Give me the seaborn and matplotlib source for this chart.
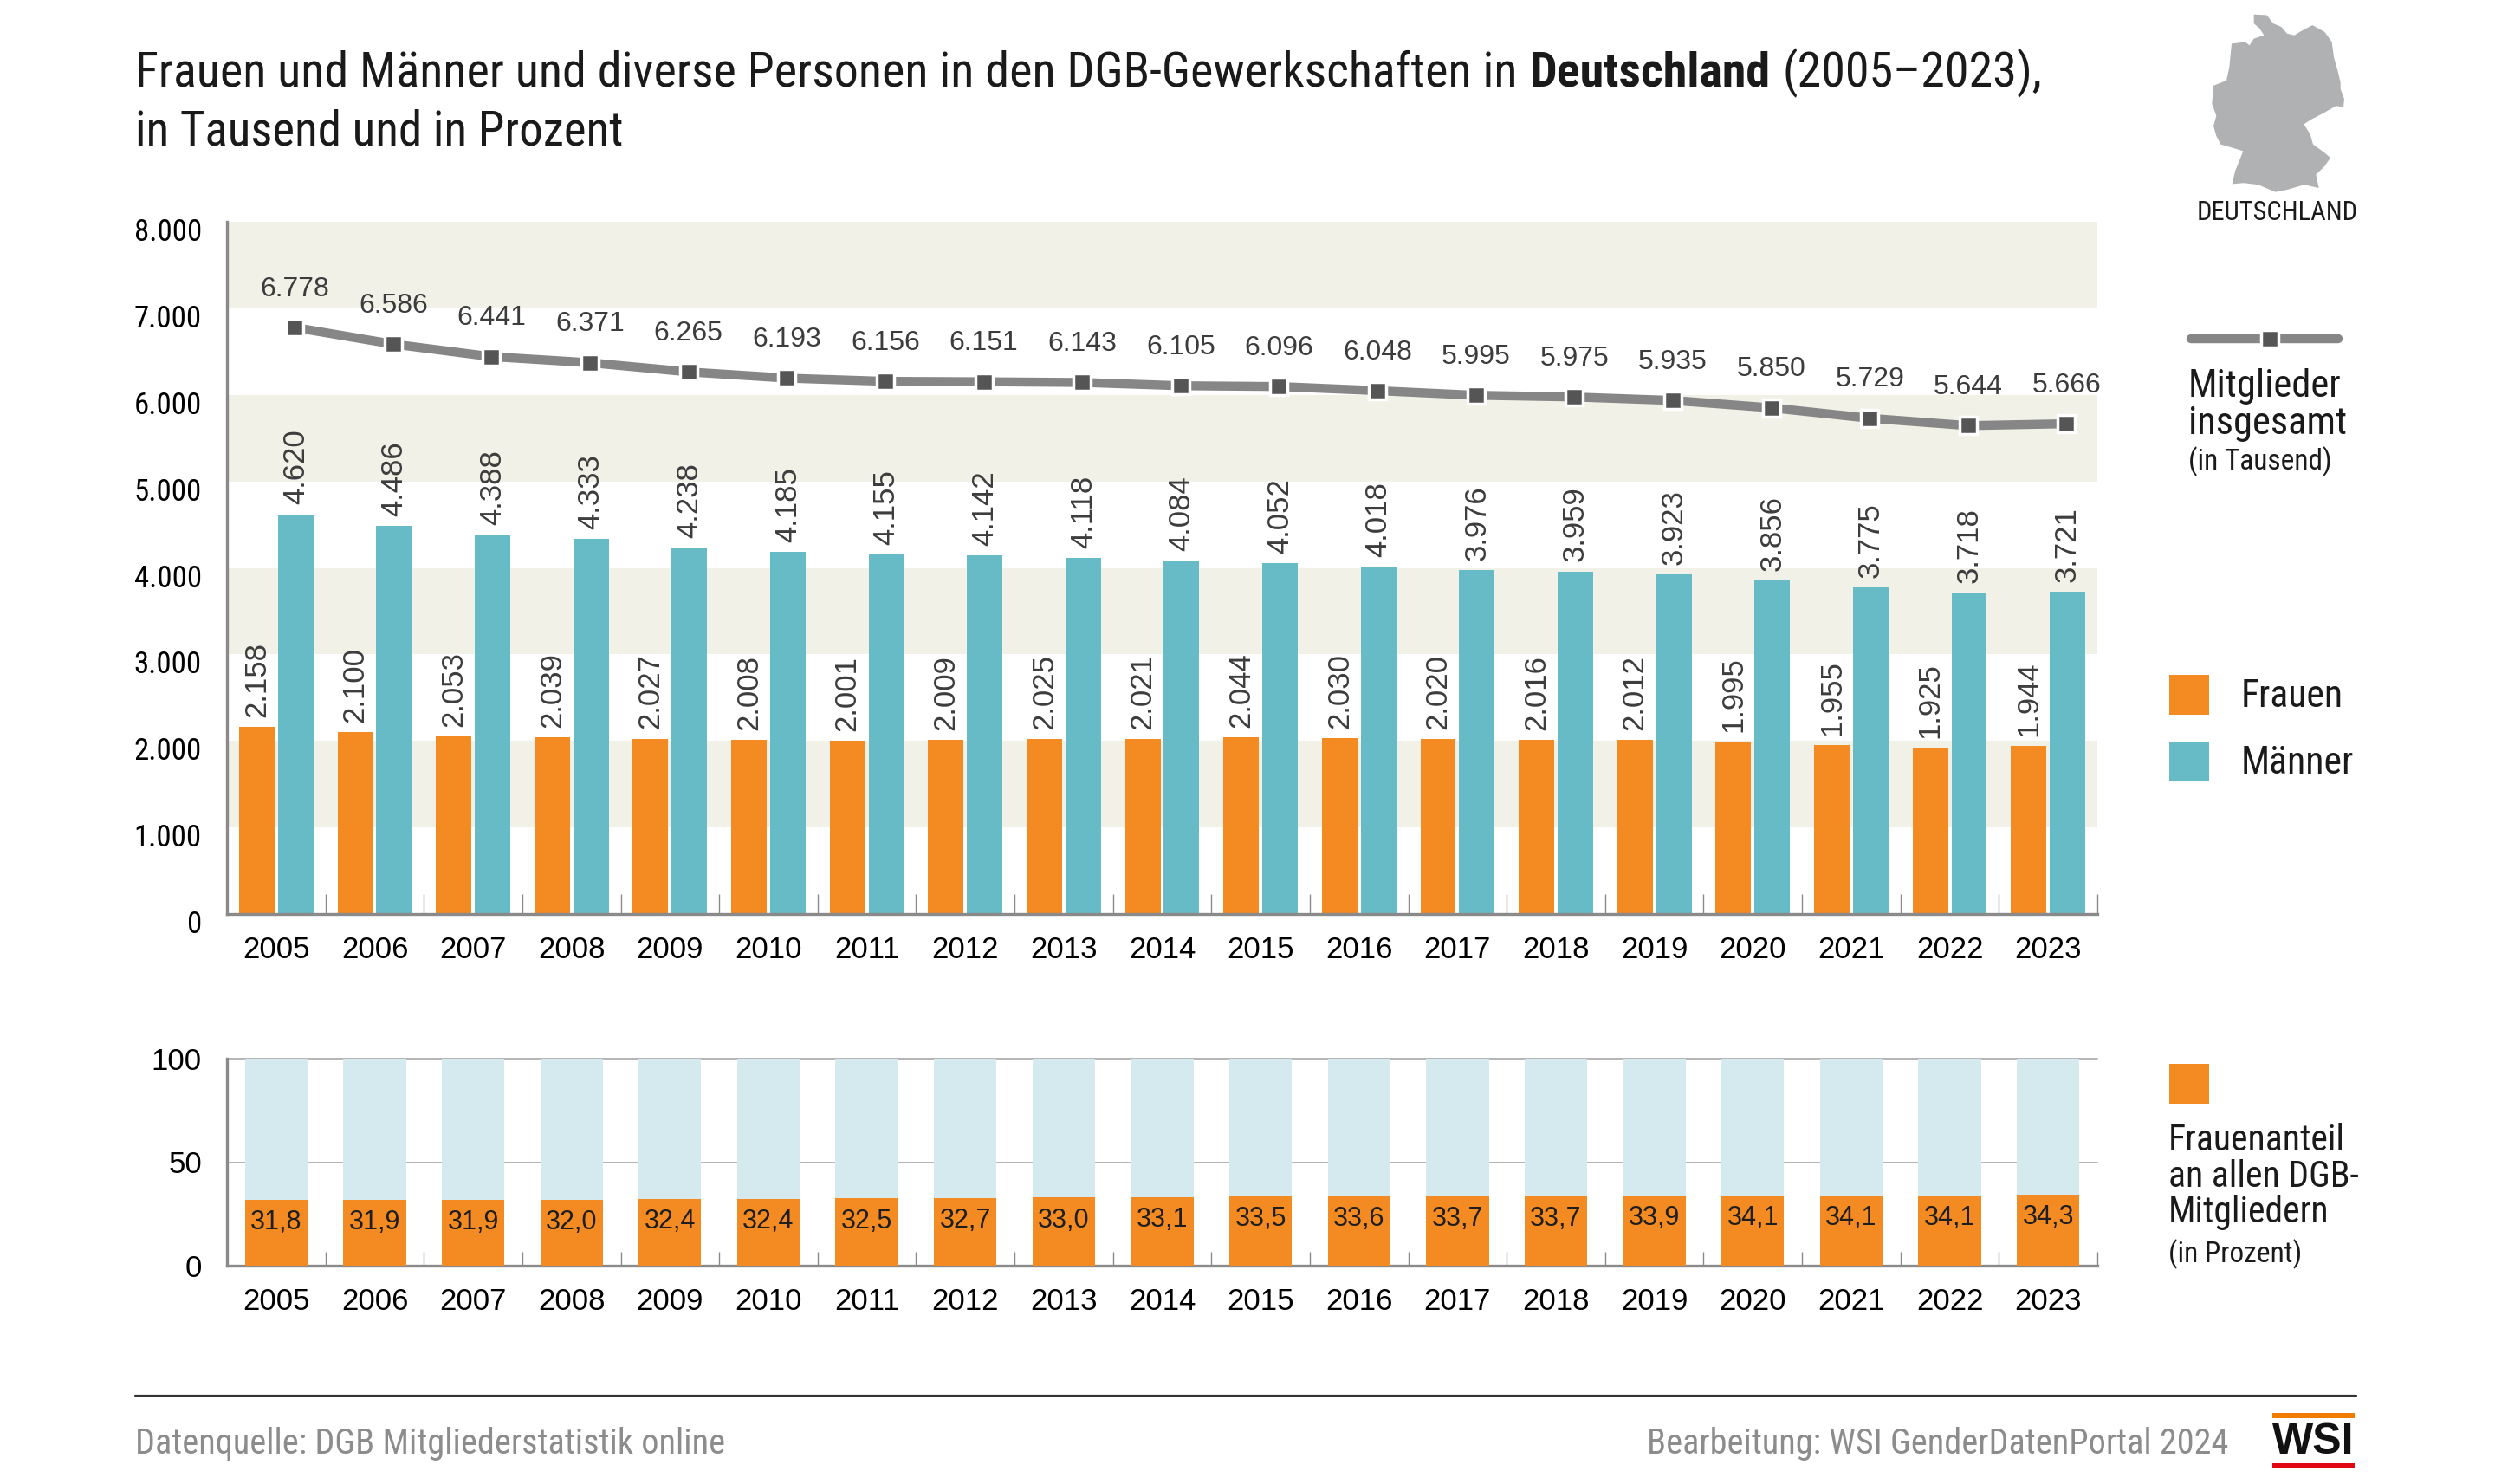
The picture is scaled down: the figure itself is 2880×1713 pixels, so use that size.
import numpy as np
import pandas as pd
import matplotlib
matplotlib.use('Agg')
import matplotlib.pyplot as plt
from matplotlib.lines import Line2D
from matplotlib.patches import Polygon, Rectangle
from matplotlib.transforms import ScaledTranslation
import seaborn as sns

years = [str(y) for y in range(2005, 2024)]
frauen = [2158, 2100, 2053, 2039, 2027, 2008, 2001, 2009, 2025, 2021, 2044, 2030, 2020, 2016, 2012, 1995, 1955, 1925, 1944]
maenner = [4620, 4486, 4388, 4333, 4238, 4185, 4155, 4142, 4118, 4084, 4052, 4018, 3976, 3959, 3923, 3856, 3775, 3718, 3721]
gesamt = [6778, 6586, 6441, 6371, 6265, 6193, 6156, 6151, 6143, 6105, 6096, 6048, 5995, 5975, 5935, 5850, 5729, 5644, 5666]
anteil = [31.8, 31.9, 31.9, 32.0, 32.4, 32.4, 32.5, 32.7, 33.0, 33.1, 33.5, 33.6, 33.7, 33.7, 33.9, 34.1, 34.1, 34.1, 34.3]
gesamt_pct = [100] * len(years)
main_ticks = [0, 1000, 2000, 3000, 4000, 5000, 6000, 7000, 8000]
share_ticks = [0, 50, 100]

ORANGE = '#F48A22'
TEAL = '#66BBC7'
LIGHT = '#D5EAEF'
BAND = '#F1F1E8'
AXIS = '#8A8A8A'
NARROW = ['Roboto Condensed', 'Roboto', 'Liberation Sans']
W, H = 2880, 1713

sns.set_style('white')
plt.rcParams['font.family'] = ['Liberation Sans', 'DejaVu Sans']

fig = plt.figure(figsize=(W / 100, H / 100), dpi=100, facecolor='white')


def add_axes_px(left, top, right, bottom):
    return fig.add_axes([left / W, 1 - bottom / H, (right - left) / W, (bottom - top) / H])


def txt(x, y, s, **kw):
    kw.setdefault('va', 'center')
    kw.setdefault('family', NARROW)
    kw.setdefault('color', '#1a1a1a')
    return fig.text(x / W, 1 - y / H, s, **kw)


def de(v):
    return f'{v:,}'.replace(',', '.')


def style_axis(ax, tick_len):
    sns.despine(ax=ax, top=True, right=True)
    for side in ['left', 'bottom']:
        ax.spines[side].set_color(AXIS)
        ax.spines[side].set_linewidth(2.4)
    ax.set_xlim(-0.5, len(years) - 0.5)
    ax.set_xlabel('')
    ax.set_ylabel('')
    ax.set_xticks(np.arange(1, len(years) + 1) - 0.5, minor=True)
    ax.tick_params(axis='x', which='minor', direction='in', length=tick_len, width=1, color=AXIS, bottom=True)
    ax.tick_params(axis='x', which='major', length=0, labelsize=25, pad=18, labelcolor='black')
    ax.tick_params(axis='y', which='both', length=0, pad=21, labelcolor='black')
    ax.patch.set_alpha(0)


# Mitglieder chart
ax = add_axes_px(262, 256, 2421, 1055)
df = pd.DataFrame({'year': years * 2,
                   'wert': frauen + maenner,
                   'gruppe': ['Frauen'] * len(years) + ['Männer'] * len(years)})
for low in [1000, 3000, 5000, 7000]:
    ax.axhspan(low, low + 1000, color=BAND, lw=0, zorder=0)
sns.barplot(df, x='year', y='wert', hue='gruppe', hue_order=['Frauen', 'Männer'],
            palette=[ORANGE, TEAL], width=0.79, gap=0.089, saturation=1, linewidth=0,
            legend=False, ax=ax, zorder=2)
for bars in ax.containers:
    for b in bars:
        ax.annotate(de(int(round(b.get_height()))), (b.get_x() + b.get_width() / 2, b.get_height()),
                    xytext=(0, 8), textcoords='offset points', rotation=90,
                    ha='center', va='bottom', fontsize=25, color='#3c3c3c', zorder=5)

# line sits above the Männer bars
xpos = np.arange(len(years)) + 0.1875
sns.lineplot(x=xpos, y=gesamt, color='#868686', linewidth=7.5, marker='s', markersize=15,
             markerfacecolor='#555555', markeredgecolor='white', markeredgewidth=2.5,
             errorbar=None, sort=False, ax=ax, zorder=4)
for x, v in zip(xpos, gesamt):
    ax.annotate(de(v), (x, v), xytext=(0, 32), textcoords='offset points', ha='center', va='center',
                fontsize=23, color='#3c3c3c', zorder=5)

ax.set_ylim(0, 8000)
ax.set_yticks(main_ticks)
ax.set_yticklabels([de(t) for t in main_ticks], family=NARROW, fontsize=25)
style_axis(ax, 16.5)
for lab in ax.get_yticklabels():
    lab.set_transform(lab.get_transform() + ScaledTranslation(0, -9 / 100, fig.dpi_scale_trans))

# Frauenanteil chart
ax2 = add_axes_px(262, 1222, 2421, 1461)
for t in [50, 100]:
    ax2.axhline(t, color='#A8A8A8', lw=1.2, zorder=1, clip_on=False)
sns.barplot(x=years, y=gesamt_pct, color=LIGHT, width=0.636, saturation=1, linewidth=0, ax=ax2, zorder=2)
sns.barplot(x=years, y=anteil, color=ORANGE, width=0.636, saturation=1, linewidth=0, ax=ax2, zorder=3)
for i, v in enumerate(anteil):
    ax2.annotate(f'{v:.1f}'.replace('.', ','), (i, v), xytext=(0, -19), textcoords='offset points',
                 ha='center', va='center', fontsize=22, color='#1e1e1e', zorder=5)
ax2.set_ylim(0, 100)
ax2.set_yticks(share_ticks)
ax2.set_yticklabels([str(t) for t in share_ticks], fontsize=25)
style_axis(ax2, 11.5)

# title, pieces placed one after another
fig.canvas.draw()
renderer = fig.canvas.get_renderer()
title_x = 156
for s, weight, gap in [('Frauen und Männer und diverse Personen in den DGB-Gewerkschaften in', 'normal', 14),
                       ('Deutschland', 'bold', 14),
                       ('(2005\u20132023),', 'normal', 0)]:
    t = txt(title_x, 84, s, fontsize=40.3, fontweight=weight)
    title_x = t.get_window_extent(renderer).x1 + gap
txt(156, 152, 'in Tausend und in Prozent', fontsize=39.6)

# Germany icon
outline = [(605, 43), (650, 45), (672, 70), (700, 80), (720, 100), (745, 105), (770, 92), (808, 75), (850, 95),
           (875, 125), (882, 170), (895, 210), (905, 245), (905, 265), (918, 295), (915, 320), (890, 315), (850, 335),
           (805, 355), (778, 370), (800, 400), (810, 430), (850, 455), (870, 470), (850, 495), (820, 520), (830, 560),
           (780, 550), (720, 565), (680, 572), (620, 550), (570, 545), (530, 548), (540, 510), (568, 450), (530, 440),
           (490, 430), (475, 405), (465, 375), (475, 345), (460, 310), (465, 255), (510, 240), (520, 200), (528, 130),
           (575, 125), (590, 135), (605, 115), (640, 105), (625, 85), (605, 70)]
fig.add_artist(Polygon([((2400 + x / 3) / W, 1 - (y / 2.58) / H) for x, y in outline],
                       closed=True, transform=fig.transFigure, facecolor='#B0B1B3', edgecolor='none'))
txt(2629, 245, 'DEUTSCHLAND', fontsize=22, ha='center')

# legends on the right
fig.add_artist(Line2D([2529 / W, 2699 / W], [1 - 391 / H] * 2, transform=fig.transFigure, color='#868686',
                      lw=7.5, solid_capstyle='round'))
fig.add_artist(Line2D([2620 / W], [1 - 391 / H], transform=fig.transFigure, marker='s', markersize=15,
                      markerfacecolor='#555555', markeredgecolor='white', markeredgewidth=2.5, linestyle=''))
txt(2526, 446, 'Mitglieder', fontsize=32)
txt(2526, 489, 'insgesamt', fontsize=32)
txt(2526, 533, '(in Tausend)', fontsize=24)

for top, color, label in [(779, ORANGE, 'Frauen'), (856, TEAL, 'Männer')]:
    fig.add_artist(Rectangle((2504 / W, 1 - (top + 46) / H), 46 / W, 46 / H, transform=fig.transFigure,
                             facecolor=color, edgecolor='none'))
    txt(2587, top + 25, label, fontsize=31.5)

fig.add_artist(Rectangle((2504 / W, 1 - 1274 / H), 46 / W, 46 / H, transform=fig.transFigure,
                         facecolor=ORANGE, edgecolor='none'))
txt(2503, 1317, 'Frauenanteil', fontsize=30)
txt(2503, 1358, 'an allen DGB-', fontsize=30)
txt(2503, 1400, 'Mitgliedern', fontsize=30)
txt(2503, 1448, '(in Prozent)', fontsize=24)

# footer
fig.add_artist(Line2D([156 / W, 2720 / W], [1 - 1611 / H] * 2, transform=fig.transFigure, color='#333333', lw=1.6))
txt(156, 1667, 'Datenquelle: DGB Mitgliederstatistik online', fontsize=29, color='#8C8C8C')
txt(2572, 1667, 'Bearbeitung: WSI GenderDatenPortal 2024', fontsize=29, color='#8C8C8C', ha='right')

fig.add_artist(Rectangle((2623 / W, 1 - 1637 / H), 95 / W, 6 / H, transform=fig.transFigure,
                         facecolor='#F07D00', edgecolor='none'))
fig.add_artist(Rectangle((2623 / W, 1 - 1695 / H), 95 / W, 6 / H, transform=fig.transFigure,
                         facecolor='#E30613', edgecolor='none'))
txt(2670, 1665, 'WSI', fontsize=36, fontweight='bold', family='Liberation Sans', ha='center', color='#111111')

fig.savefig('out.png', dpi=100, facecolor='white')
